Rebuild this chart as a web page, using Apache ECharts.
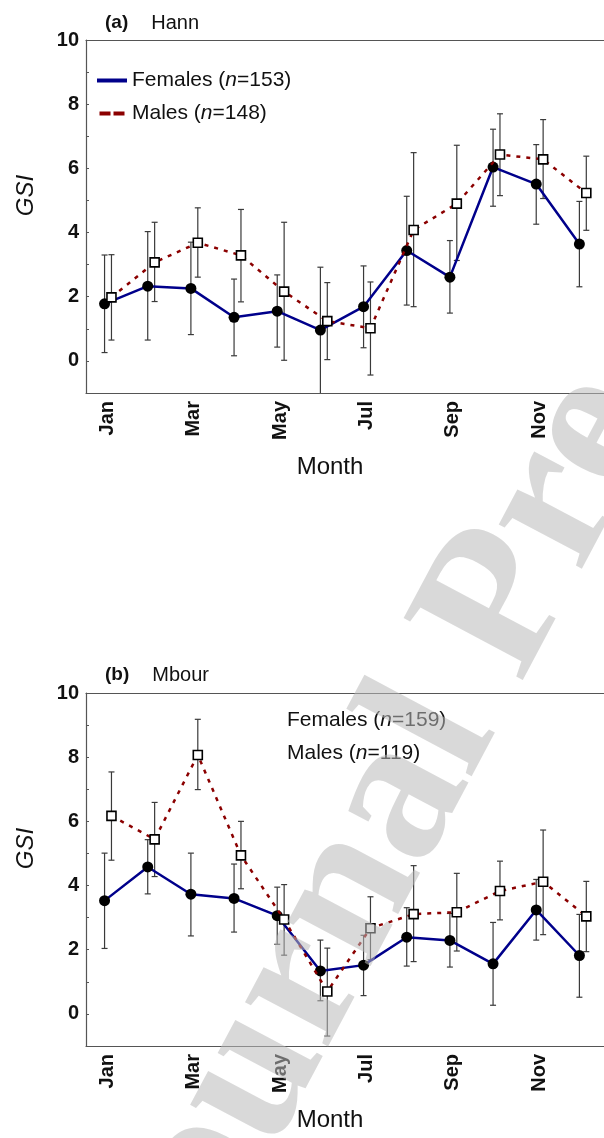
<html lang="en">
<head>
<meta charset="UTF-8">
<title>GSI by month</title>
<style>
    html, body { margin: 0; padding: 0; background: #fff; }
    #echart { width: 604px; height: 1138px; }
</style>
</head>
<body>
<div id="echart"></div>
<script src="https://cdn.jsdelivr.net/npm/echarts@6/dist/echarts.min.js"></script>
<script>
    // months on the category axis
    const months = ['Jan', 'Feb', 'Mar', 'Apr', 'May', 'Jun', 'Jul', 'Aug', 'Sep', 'Oct', 'Nov', 'Dec']

    // (a) Hann
    const hannF = [1.78, 2.33, 2.26, 1.36, 1.55, 0.96, 1.69, 3.44, 2.61, 6.04, 5.51, 3.64]
    const hannFLow = [0.26, 0.65, 0.82, 0.16, 0.43, -1.2, 0.41, 1.74, 1.49, 4.82, 4.26, 2.31]
    const hannFHigh = [3.30, 4.03, 3.70, 2.55, 2.68, 2.92, 2.96, 5.13, 3.75, 7.22, 6.74, 4.97]
    const hannM = [1.98, 3.07, 3.68, 3.29, 2.16, 1.24, 1.02, 4.08, 4.90, 6.43, 6.28, 5.23]
    const hannMLow = [0.65, 1.85, 2.61, 1.84, 0.02, 0.04, -0.44, 1.69, 3.13, 5.15, 5.06, 4.07]
    const hannMHigh = [3.31, 4.32, 4.77, 4.72, 4.32, 2.44, 2.46, 6.49, 6.72, 7.70, 7.52, 6.38]

    // (b) Mbour
    const mbourF = [3.53, 4.58, 3.73, 3.60, 3.06, 1.34, 1.52, 2.39, 2.29, 1.56, 3.24, 1.82]
    const mbourFLow = [2.04, 3.74, 2.43, 2.55, 2.17, 0.41, 0.57, 1.49, 1.46, 0.27, 2.30, 0.52]
    const mbourFHigh = [5.01, 5.43, 5.01, 4.67, 3.95, 2.30, 2.45, 3.31, 3.13, 2.85, 4.19, 3.10]
    const mbourM = [6.17, 5.44, 8.07, 4.94, 2.94, 0.70, 2.67, 3.11, 3.17, 3.83, 4.12, 3.04]
    const mbourMLow = [4.79, 4.28, 6.99, 3.90, 1.83, -0.69, 1.69, 1.63, 1.96, 2.93, 2.47, 1.94]
    const mbourMHigh = [7.54, 6.59, 9.18, 6.00, 4.03, 2.05, 3.65, 4.62, 4.38, 4.76, 5.73, 4.13]

    const FONT = '"Liberation Sans", Arial, sans-serif'
    const BLUE = '#00008b'
    const RED = '#8b0000'
    const offF = -0.07  // females drawn a bit left of the tick
    const offM = 0.09   // males a bit right

    const echart = echarts.init(document.getElementById('echart'))

    const pts = (vals, off) => vals.map((v, i) => [i + 1 + off, v])
    const bars = (lo, hi, off) => lo.map((v, i) => [i + 1 + off, v, hi[i]])

    function errorBar(params, api) {
        const top = api.coord([api.value(0), api.value(2)])
        const bot = api.coord([api.value(0), api.value(1)])
        const st = { stroke: '#3a3a3a', lineWidth: 1.2 }
        return {
            type: 'group',
            children: [
                { type: 'line', shape: { x1: top[0], y1: top[1], x2: bot[0], y2: bot[1] }, style: st },
                { type: 'line', shape: { x1: top[0] - 3, y1: top[1], x2: top[0] + 3, y2: top[1] }, style: st },
                { type: 'line', shape: { x1: bot[0] - 3, y1: bot[1], x2: bot[0] + 3, y2: bot[1] }, style: st }
            ]
        }
    }

    const grids = [
        { left: 86, top: 40, width: 522, height: 353 },
        { left: 86, top: 693, width: 522, height: 353 }
    ]

    const xAxes = []
    const yAxes = []
    grids.forEach((g, gi) => {
        xAxes.push({
            type: 'category', gridIndex: gi, position: 'bottom', data: months, boundaryGap: true,
            axisLine: { onZero: false, lineStyle: { color: '#555', width: 1.2 } },
            axisTick: { alignWithLabel: true, inside: true, length: 3, interval: 0, lineStyle: { color: '#555' } },
            axisLabel: { rotate: 90, interval: 1, fontSize: 20, fontWeight: 'bold', color: '#111', fontFamily: FONT, margin: 8 },
            name: 'Month', nameLocation: 'middle', nameGap: 62,
            nameTextStyle: { fontSize: 24, color: '#111', fontFamily: FONT, padding: [0, 30, 0, 0] }
        })
        xAxes.push({
            type: 'category', gridIndex: gi, position: 'top', data: months, boundaryGap: true,
            axisLine: { onZero: false, lineStyle: { color: '#555', width: 1.2 } },
            axisTick: { alignWithLabel: true, inside: true, length: 3, interval: 0, lineStyle: { color: '#555' } },
            axisLabel: { show: false }
        })
        xAxes.push({ type: 'value', gridIndex: gi, min: 0.5, max: 12.5, show: false })
        yAxes.push({
            type: 'value', gridIndex: gi, min: -1, max: 10, interval: 1,
            axisLine: { show: true, onZero: false, lineStyle: { color: '#555', width: 1.2 } },
            axisTick: { show: true, inside: true, length: 3, lineStyle: { color: '#555' } },
            splitLine: { show: false },
            axisLabel: {
                formatter: v => (v % 2 === 0 ? v : ''),
                fontSize: 20, fontWeight: 'bold', color: '#111', fontFamily: FONT, margin: 7
            },
            name: 'GSI', nameLocation: 'middle', nameGap: 48, nameRotate: 90,
            nameTextStyle: { fontSize: 24, fontStyle: 'italic', color: '#111', fontFamily: FONT, padding: [0, 0, 0, 42] }
        })
    })

    function panelSeries(gi, F, FLo, FHi, M, MLo, MHi, nF, nM) {
        const xi = gi * 3 + 2
        return [
            { type: 'custom', xAxisIndex: xi, yAxisIndex: gi, renderItem: errorBar, data: bars(MLo, MHi, offM), clip: true, z: 1, silent: true },
            { type: 'custom', xAxisIndex: xi, yAxisIndex: gi, renderItem: errorBar, data: bars(FLo, FHi, offF), clip: true, z: 1, silent: true },
            {
                name: 'Females (n=' + nF + ')', type: 'line', xAxisIndex: xi, yAxisIndex: gi,
                data: pts(F, offF), symbol: 'circle', symbolSize: 11, z: 3,
                itemStyle: { color: '#000' }, lineStyle: { color: BLUE, width: 2.5 }
            },
            {
                name: 'Males (n=' + nM + ')', type: 'line', xAxisIndex: xi, yAxisIndex: gi,
                data: pts(M, offM), symbol: 'rect', symbolSize: 9, z: 4,
                itemStyle: { color: '#fff', borderColor: '#000', borderWidth: 1.6 },
                lineStyle: { color: RED, width: 2.5, type: [4, 6] }
            }
        ]
    }

    const legendText = {
        fontSize: 21, color: '#111', fontFamily: FONT,
        rich: { it: { fontSize: 21, fontStyle: 'italic', color: '#111', fontFamily: FONT } }
    }
    const fmt = name => name.replace('(n=', '({it|n}=')
    const titleStyle = {
        fontSize: 20, fontWeight: 'normal', color: '#111', fontFamily: FONT,
        rich: { b: { fontSize: 19, fontWeight: 'bold', color: '#111', fontFamily: FONT, padding: [0, 23, 0, 0] } }
    }

    echart.setOption({
        animation: false,
        title: [
            { text: '{b|(a)}Hann', left: 100, top: 8, textStyle: titleStyle },
            { text: '{b|(b)}Mbour', left: 100, top: 660, textStyle: titleStyle }
        ],
        legend: [
            {
                orient: 'vertical', left: 92, top: 65, itemGap: 12, itemWidth: 30, itemHeight: 4,
                formatter: fmt, textStyle: legendText, selectedMode: false,
                data: [
                    { name: 'Females (n=153)', icon: 'rect', itemStyle: { color: BLUE, borderWidth: 0 } },
                    { name: 'Males (n=148)', icon: 'path://M0,0h11v4h-11zM14,0h11v4h-11z', itemStyle: { color: RED, borderWidth: 0 } }
                ]
            },
            {
                orient: 'vertical', left: 276, top: 705, itemGap: 12, itemWidth: 0, itemHeight: 0,
                formatter: fmt, textStyle: legendText, selectedMode: false,
                data: [{ name: 'Females (n=159)', icon: 'rect' }, { name: 'Males (n=119)', icon: 'rect' }]
            }
        ],
        grid: grids,
        xAxis: xAxes,
        yAxis: yAxes,
        series: [
            ...panelSeries(0, hannF, hannFLow, hannFHigh, hannM, hannMLow, hannMHigh, 153, 148),
            ...panelSeries(1, mbourF, mbourFLow, mbourFHigh, mbourM, mbourMLow, mbourMHigh, 159, 119)
        ],
        graphic: [{
            // "Journal Pre-proof" watermark laid over the figure
            type: 'text', x: 500, y: 610, rotation: 62 * Math.PI / 180, z: 100, silent: true,
            style: {
                text: 'Journal Pre-proof', fontSize: 205, fontWeight: 'bold',
                fontFamily: '"Liberation Serif", "Times New Roman", serif',
                fill: 'rgba(185,185,185,0.55)', align: 'center', verticalAlign: 'middle'
            }
        }]
    })
</script>
</body>
</html>
